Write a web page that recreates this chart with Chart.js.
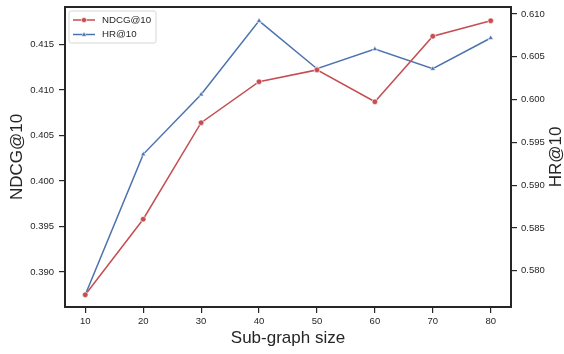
<!DOCTYPE html>
<html>
<head>
<meta charset="utf-8">
<script src="https://cdn.jsdelivr.net/npm/chart.js@4"></script>
<style>
  html, body { margin: 0; padding: 0; background: #fff; }
  #wrap { width: 564px; height: 354px; }
</style>
</head>
<body>
<div id="wrap"><canvas id="chart" width="564" height="354"></canvas></div>
<script>
// --- data ---
const sizes = [10, 20, 30, 40, 50, 60, 70, 80];
const ndcg = [0.3875, 0.3958, 0.4064, 0.4109, 0.4122, 0.4087, 0.4159, 0.4176];
const hr = [0.5772, 0.5936, 0.6006, 0.6092, 0.6036, 0.6059, 0.6036, 0.6072];
const xTicks = [10, 20, 30, 40, 50, 60, 70, 80];
const ndcgTicks = [0.390, 0.395, 0.400, 0.405, 0.410, 0.415];
const hrTicks = [0.580, 0.585, 0.590, 0.595, 0.600, 0.605, 0.610];

const RED = '#C44E52';
const BLUE = '#4C72B0';
const INK = '#262626';
const FONT = '"Liberation Sans", Arial, sans-serif';

const toPts = (ys) => sizes.map((x, i) => ({ x: x, y: ys[i] }));

// axis titles + frame + legend, matplotlib style
const decor = {
    id: 'decor',
    afterDatasetsDraw(chart) {
        const { ctx, chartArea: a } = chart;
        ctx.save();
        // frame
        ctx.strokeStyle = INK;
        ctx.lineWidth = 2;
        ctx.strokeRect(a.left, a.top, a.right - a.left, a.bottom - a.top);

        // titles
        ctx.fillStyle = INK;
        ctx.font = '17px ' + FONT;
        ctx.textAlign = 'center';
        ctx.textBaseline = 'middle';
        ctx.fillText('Sub-graph size', (a.left + a.right) / 2, 338);
        const midY = (a.top + a.bottom) / 2;
        ctx.save();
        ctx.translate(17, midY);
        ctx.rotate(-Math.PI / 2);
        ctx.fillText('NDCG@10', 0, 0);
        ctx.restore();
        ctx.save();
        ctx.translate(556, midY);
        ctx.rotate(-Math.PI / 2);
        ctx.fillText('HR@10', 0, 0);
        ctx.restore();

        // legend
        const bx = 69, by = 11, bw = 87, bh = 32;
        ctx.beginPath();
        ctx.roundRect(bx, by, bw, bh, 2);
        ctx.fillStyle = 'rgba(255,255,255,0.8)';
        ctx.fill();
        ctx.strokeStyle = '#d6d6d6';
        ctx.lineWidth = 1;
        ctx.stroke();

        const rows = [
            { label: 'NDCG@10', color: RED, y: 20, shape: 'circle' },
            { label: 'HR@10', color: BLUE, y: 34.5, shape: 'triangle' }
        ];
        ctx.font = '9.7px ' + FONT;
        ctx.textAlign = 'left';
        rows.forEach(r => {
            ctx.strokeStyle = r.color;
            ctx.lineWidth = 1.5;
            ctx.beginPath();
            ctx.moveTo(73, r.y);
            ctx.lineTo(95, r.y);
            ctx.stroke();
            ctx.fillStyle = r.color;
            ctx.strokeStyle = '#fff';
            ctx.lineWidth = 0.6;
            ctx.beginPath();
            if (r.shape === 'circle') {
                ctx.arc(84, r.y, 2.6, 0, Math.PI * 2);
            } else {
                ctx.moveTo(84, r.y - 2.8);
                ctx.lineTo(86.6, r.y + 1.8);
                ctx.lineTo(81.4, r.y + 1.8);
                ctx.closePath();
            }
            ctx.fill();
            ctx.stroke();
            ctx.fillStyle = INK;
            ctx.fillText(r.label, 102, r.y);
        });
        ctx.restore();
    }
};

const tickFont = { family: FONT, size: 9.5 };
const gridOpts = { display: true, drawOnChartArea: false, drawTicks: true, tickLength: 6, tickColor: INK, lineWidth: 1.2 };

new Chart(document.getElementById('chart'), {
    type: 'line',
    data: {
        datasets: [
            {
                label: 'NDCG@10',
                data: toPts(ndcg),
                yAxisID: 'y',
                borderColor: RED,
                backgroundColor: RED,
                borderWidth: 1.5,
                pointStyle: 'circle',
                pointRadius: 2.8,
                pointBorderColor: '#fff',
                pointBorderWidth: 0.6,
                tension: 0
            },
            {
                label: 'HR@10',
                data: toPts(hr),
                yAxisID: 'y2',
                borderColor: BLUE,
                backgroundColor: BLUE,
                borderWidth: 1.5,
                pointStyle: 'triangle',
                pointRadius: 3,
                pointBorderColor: '#fff',
                pointBorderWidth: 0.6,
                tension: 0
            }
        ]
    },
    options: {
        responsive: false,
        animation: false,
        layout: { padding: { top: 7, left: 0, right: 0, bottom: 0 } },
        plugins: { legend: { display: false }, tooltip: { enabled: false } },
        scales: {
            x: {
                type: 'linear',
                min: 6.5,
                max: 83.5,
                afterBuildTicks: s => { s.ticks = xTicks.map(v => ({ value: v })); },
                afterFit: s => { s.height = 47; s.paddingLeft = 0; s.paddingRight = 0; },
                grid: gridOpts,
                border: { display: false },
                ticks: { color: INK, font: tickFont, padding: 3, maxRotation: 0 }
            },
            y: {
                position: 'left',
                min: 0.38616,
                max: 0.41911,
                afterBuildTicks: s => { s.ticks = ndcgTicks.map(v => ({ value: v })); },
                afterFit: s => { s.width = 65; s.paddingTop = 0; s.paddingBottom = 0; },
                grid: gridOpts,
                border: { display: false },
                ticks: { color: INK, font: tickFont, padding: 5, callback: v => v.toFixed(3) }
            },
            y2: {
                position: 'right',
                min: 0.57576,
                max: 0.61082,
                afterBuildTicks: s => { s.ticks = hrTicks.map(v => ({ value: v })); },
                afterFit: s => { s.width = 53; s.paddingTop = 0; s.paddingBottom = 0; },
                grid: gridOpts,
                border: { display: false },
                ticks: { color: INK, font: tickFont, padding: 4, callback: v => v.toFixed(3) }
            }
        }
    },
    plugins: [decor]
});
</script>
</body>
</html>
